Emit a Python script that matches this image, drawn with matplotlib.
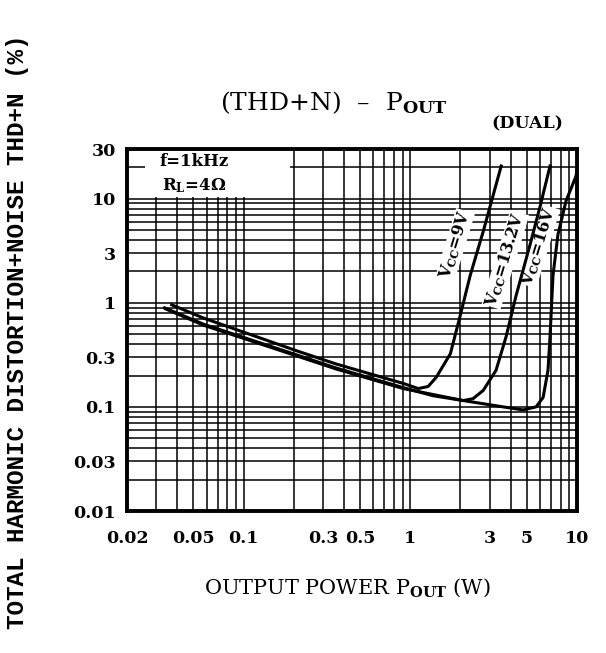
import matplotlib
matplotlib.use("Agg")
import matplotlib.pyplot as plt
from matplotlib.patches import Rectangle

# THD+N vs output power (dual)
p_9v = [0.0371, 0.0576, 0.208, 0.360, 0.908, 1.117, 1.28, 1.43, 1.74, 1.99, 2.29, 2.74, 3.51]
thd_9v = [0.956, 0.713, 0.346, 0.258, 0.168, 0.150, 0.157, 0.192, 0.324, 0.746, 1.84, 4.86, 20.6]

p_13v = [0.0336, 0.0576, 0.208, 0.360, 0.908, 1.37, 2.08, 2.38, 2.74, 3.27, 3.76, 4.31, 5.23, 6.0, 6.89]
thd_13v = [0.894, 0.622, 0.316, 0.236, 0.153, 0.128, 0.115, 0.120, 0.144, 0.225, 0.475, 1.17, 3.62, 8.35, 20.6]

p_16v = [0.0341, 0.0576, 0.208, 0.360, 0.908, 2.08, 3.61, 4.75, 5.68, 6.26, 6.7, 6.89, 7.18, 7.69, 8.6, 9.86, 10.0]
thd_16v = [0.874, 0.609, 0.309, 0.231, 0.150, 0.115, 0.100, 0.0935, 0.100, 0.123, 0.225, 0.475, 1.84, 4.54, 9.55, 16.4, 19.0]

x_ticks = [0.02, 0.05, 0.1, 0.3, 0.5, 1, 3, 5, 10]
x_labels = ["0.02", "0.05", "0.1", "0.3", "0.5", "1", "3", "5", "10"]
y_ticks = [0.01, 0.03, 0.1, 0.3, 1, 3, 10, 30]
y_labels = ["0.01", "0.03", "0.1", "0.3", "1", "3", "10", "30"]

plt.rcParams["font.family"] = "DejaVu Serif"
plt.rcParams["mathtext.fontset"] = "custom"
plt.rcParams["mathtext.rm"] = "DejaVu Serif:bold"
plt.rcParams["mathtext.bf"] = "DejaVu Serif:bold"
plt.rcParams["mathtext.it"] = "DejaVu Serif:bold"

W, H = 606, 653
fig = plt.figure(figsize=(W / 100, H / 100), dpi=100)
ax = fig.add_axes([127 / W, 1 - 511 / H, 450 / W, 362 / H])

ax.set_xscale("log")
ax.set_yscale("log")
ax.set_xlim(0.02, 10)
ax.set_ylim(0.01, 30)

ax.grid(True, which="both", color="black", linewidth=1.1)
ax.set_axisbelow(True)

for px, py in [(p_9v, thd_9v), (p_13v, thd_13v), (p_16v, thd_16v)]:
    ax.plot(px, py, color="black", linewidth=2.2, zorder=4, solid_joinstyle="round")

ax.set_xticks(x_ticks)
ax.set_xticklabels(x_labels)
ax.set_yticks(y_ticks)
ax.set_yticklabels(y_labels)
ax.tick_params(which="both", length=0, labelsize=12.5)
ax.tick_params(axis="x", pad=14)
ax.tick_params(axis="y", pad=8)
for lab in ax.get_xticklabels() + ax.get_yticklabels():
    lab.set_fontweight("bold")

for s in ax.spines.values():
    s.set_linewidth(2.8)
    s.set_zorder(6)

# white box behind conditions text
ax.add_patch(Rectangle((0.0256, 10.3), 0.19 - 0.0256, 30, facecolor="white",
                       edgecolor="none", zorder=2))
ax.text(0.073, 0.965, "f=1kHz", transform=ax.transAxes, fontsize=12,
        fontweight="bold", va="center", ha="left", zorder=5)
ax.text(0.078, 0.9, "R$_{\\mathrm{L}}$=4\u03a9", transform=ax.transAxes, fontsize=12,
        fontweight="bold", va="center", ha="left", zorder=5)

bb = dict(facecolor="white", edgecolor="none", pad=0.3)
ax.text(1.86, 3.6, "V$_{\\mathrm{CC}}$=9V", rotation=73, fontsize=11.5, fontweight="bold",
        ha="center", va="center", bbox=bb, zorder=3)
ax.text(3.72, 2.6, "V$_{\\mathrm{CC}}$=13.2V", rotation=73, fontsize=11.5, fontweight="bold",
        ha="center", va="center", bbox=bb, zorder=3)
ax.text(5.9, 3.5, "V$_{\\mathrm{CC}}$=16V", rotation=73, fontsize=11.5, fontweight="bold",
        ha="center", va="center", bbox=bb, zorder=3)

fig.text(334 / W, 1 - 103 / H, "(THD+N)  \u2013  P$_{\\mathrm{OUT}}$", fontsize=18,
         ha="center", va="center")
fig.text(527 / W, 1 - 124 / H, "(DUAL)", fontsize=12.5, fontweight="bold",
         ha="center", va="center")
fig.text(347 / W, 1 - 588 / H, "OUTPUT POWER P$_{\\mathrm{OUT}}$ (W)", fontsize=15,
         ha="center", va="center")
fig.text(18 / W, 1 - 332 / H, "TOTAL HARMONIC DISTORTION+NOISE THD+N (%)",
         family="Liberation Mono", fontweight="bold", fontsize=17.5, rotation=90,
         ha="center", va="center")

fig.savefig("out.png", dpi=100, facecolor="white")
